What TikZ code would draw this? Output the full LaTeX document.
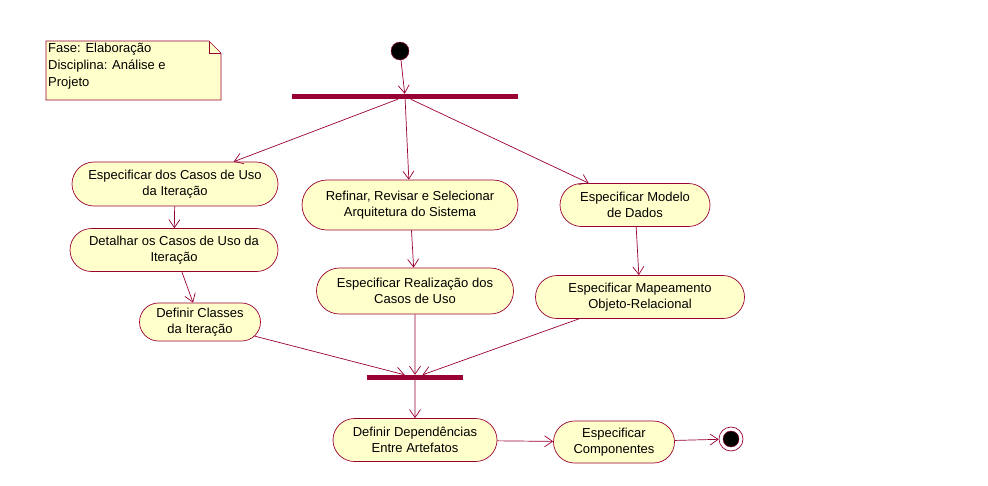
\documentclass[tikz,border=0pt]{standalone}
\usepackage{fontspec}
\setmainfont{Liberation Sans}
\usetikzlibrary{shapes.misc,arrows.meta}
\definecolor{rosered}{HTML}{990033}
\definecolor{rosefill}{HTML}{FFFFCC}

\begin{document}
\begin{tikzpicture}[x=1pt,y=-1pt,
  act/.style={draw=rosered, fill=rosefill, rounded rectangle, align=center, inner sep=0pt, line width=0.7pt, font=\fontsize{13}{16}\selectfont},
  bar/.style={fill=rosered, inner sep=0pt, minimum height=5pt},
  flow/.style={draw=rosered, line width=0.7pt, -{Straight Barb[length=8pt,width=11pt]}}]
\useasboundingbox (0,0) rectangle (988,485);

% nota
\path[draw=rosered, fill=rosefill, line width=0.7pt] (46,41) -- (209,41) -- (221,53) -- (221,100) -- (46,100) -- cycle;
\path[draw=rosered, line width=0.7pt] (209,41) -- (209,53) -- (221,53);
\node[anchor=north west, align=left, inner sep=0pt, font=\fontsize{13}{17}\selectfont] (note) at (48,43) {Fase: Elaboração\\Disciplina: Análise e\\Projeto};

\node[draw=rosered, fill=black, circle, minimum size=18pt, inner sep=0pt] (start) at (400,51) {};
\node[bar, minimum width=226pt] (fork) at (405,96.5) {};

\node[act, minimum width=206pt, minimum height=44pt] (spec1) at (175,184) {Especificar dos Casos de Uso\\da Iteração};
\node[act, minimum width=208pt, minimum height=43pt] (detail) at (174,250) {Detalhar os Casos de Uso da\\Iteração};
\node[act, minimum width=121pt, minimum height=38pt] (classes) at (200,322) {Definir Classes\\da Iteração};
\node[act, minimum width=216pt, minimum height=50pt] (arch) at (410,205) {Refinar, Revisar e Selecionar\\Arquitetura do Sistema};
\node[act, minimum width=197pt, minimum height=46pt] (real) at (415,291) {Especificar Realização dos\\Casos de Uso};
\node[act, minimum width=150pt, minimum height=43pt] (model) at (635,205) {Especificar Modelo\\de Dados};
\node[act, minimum width=209pt, minimum height=43pt] (map) at (640,297) {Especificar Mapeamento\\Objeto-Relacional};

\node[bar, minimum width=96pt] (join) at (415,377.5) {};

\node[act, minimum width=164pt, minimum height=43pt] (deps) at (415,440) {Definir Dependências\\Entre Artefatos};
\node[act, minimum width=121pt, minimum height=42pt] (comp) at (614,442) {Especificar\\Componentes};

\node[draw=rosered, fill=white, circle, minimum size=24pt, inner sep=0pt, line width=0.7pt] (final) at (731,439) {};
\node[draw=rosered, fill=black, circle, minimum size=16pt, inner sep=0pt] (finaldot) at (final) {};

\path[flow] (start) -- (fork);
\path[flow] (fork) -- (spec1);
\path[flow] (fork) -- (arch);
\path[flow] (fork) -- (model);
\path[flow] (spec1) -- (detail);
\path[flow] (detail) -- (classes);
\path[flow] (arch) -- (real);
\path[flow] (model) -- (map);
\path[flow] (classes) -- (join);
\path[flow] (real) -- (join);
\path[flow] (map) -- (join);
\path[flow] (join) -- (deps);
\path[flow] (deps) -- (comp);
\path[flow] (comp) -- (final);
\end{tikzpicture}
\end{document}
